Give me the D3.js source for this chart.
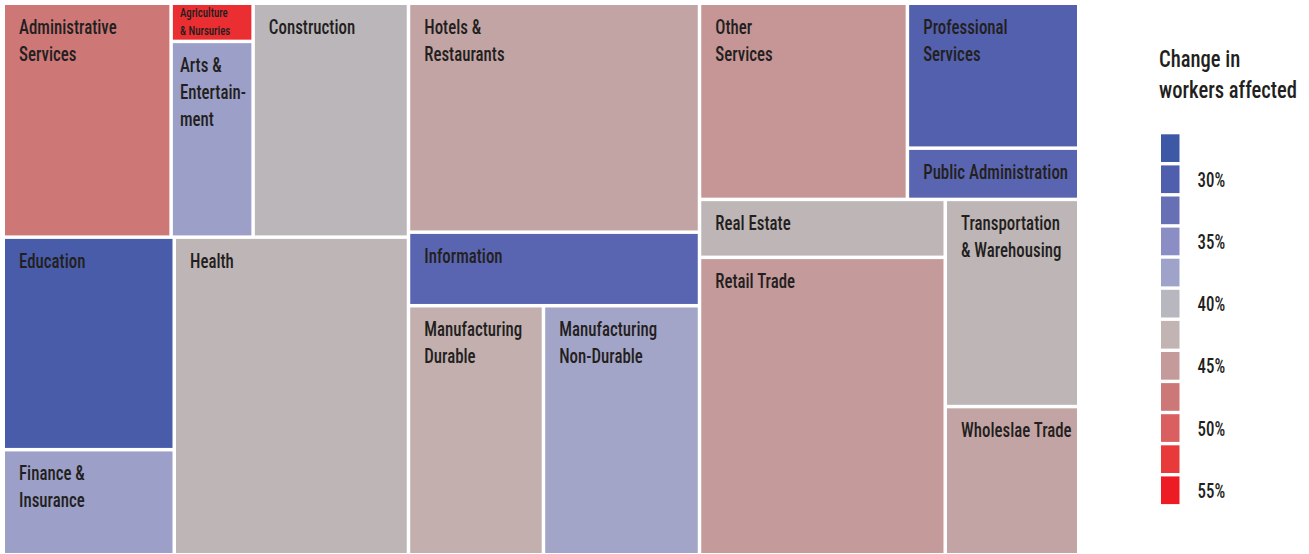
<!DOCTYPE html>
<html>
<head>
<meta charset="utf-8">
<script src="https://cdn.jsdelivr.net/npm/d3@7"></script>
<style>
  html, body { margin: 0; padding: 0; background: #ffffff; }
  svg { display: block; }
  text { font-family: "Liberation Sans Narrow", "Arial Narrow", "Roboto Condensed", Roboto, sans-serif; font-weight: 500; fill: #231f20; }
</style>
</head>
<body>
<svg id="chart" width="1309" height="554"></svg>
<script>
// ---------- data ----------
const industries = [
  "Administrative Services", "Agriculture & Nursuries", "Arts & Entertainment", "Construction",
  "Education", "Finance & Insurance", "Health",
  "Hotels & Restaurants", "Information", "Manufacturing Durable", "Manufacturing Non-Durable",
  "Other Services", "Professional Services", "Public Administration",
  "Real Estate", "Retail Trade", "Transportation & Warehousing", "Wholeslae Trade"
];
const labelLines = [
  ["Administrative", "Services"], ["Agriculture", "& Nursuries"], ["Arts &", "Entertain-", "ment"], ["Construction"],
  ["Education"], ["Finance &", "Insurance"], ["Health"],
  ["Hotels &", "Restaurants"], ["Information"], ["Manufacturing", "Durable"], ["Manufacturing", "Non-Durable"],
  ["Other", "Services"], ["Professional", "Services"], ["Public Administration"],
  ["Real Estate"], ["Retail Trade"], ["Transportation", "& Warehousing"], ["Wholeslae Trade"]
];
// relative size of each industry (workers)
const workers = [
  38.9, 3.1, 15.9, 36.0,
  36.0, 17.8, 73.7,
  66.0, 21.2, 33.3, 38.5,
  40.4, 24.6, 8.7,
  14.1, 72.4, 27.4, 19.6
];
// change in workers affected (%)
const changePct = [
  47.6, 53.5, 37.0, 41.0,
  29.0, 37.0, 41.8,
  44.0, 31.0, 43.0, 37.8,
  45.3, 30.3, 31.0,
  41.8, 45.0, 41.8, 44.0
];
// grouping of the treemap (nested blocks)
const groupPath = [
  "g1/top", "g1/top/ag", "g1/top/ag", "g1/top",
  "g1/bot/ef", "g1/bot/ef", "g1/bot",
  "g2", "g2", "g2/mf", "g2/mf",
  "g3/top", "g3/top/pp", "g3/top/pp",
  "g3/bot/rr", "g3/bot/rr", "g3/bot/tw", "g3/bot/tw"
];
// legend
const legendSteps = [27.5, 30, 32.5, 35, 37.5, 40, 42.5, 45, 47.5, 50, 52.5, 55];
const legendColors = ["#3d59a5", "#4f5ead", "#6870b5", "#8a8ec5", "#a0a3c9", "#b6b7bf",
                      "#c1b4b3", "#c59a9a", "#cd7878", "#d95f60", "#e83a3a", "#ed1c24"];
const legendTicks = [30, 35, 40, 45, 50, 55];
const legendTitle = ["Change in", "workers affected"];

// ---------- build hierarchy ----------
const root = { name: "root", children: [] };
industries.forEach((name, i) => {
  let node = root;
  groupPath[i].split("/").forEach(seg => {
    let child = node.children.find(c => c.name === seg && c.children);
    if (!child) { child = { name: seg, children: [] }; node.children.push(child); }
    node = child;
  });
  node.children.push({ name, idx: i, value: workers[i] });
});

const svg = d3.select("#chart");
const color = d3.scaleLinear().domain(legendSteps).range(legendColors).clamp(true);

const W = 1072, H = 548;
const h = d3.hierarchy(root).sum(d => d.value || 0);
d3.treemap().tile(d3.treemapSliceDice).size([W, H]).paddingInner(3.5).round(false)(h);

const g = svg.append("g").attr("transform", "translate(5,5)");
const leaves = h.leaves();

// horizontal compression for the condensed face
function fitScale(str, size, target) {
  const probe = svg.append("text").attr("font-size", size).text(str);
  const s = Math.min(1, target / probe.node().getComputedTextLength());
  probe.remove();
  return s;
}
const sx = fitScale("Public Administration", 21, 145);
const sxTitle = fitScale("workers affected", 23, 138);

const cell = g.selectAll("g.cell").data(leaves).join("g").attr("class", "cell");
cell.append("rect")
  .attr("x", d => d.x0).attr("y", d => d.y0)
  .attr("width", d => d.x1 - d.x0).attr("height", d => d.y1 - d.y0)
  .attr("fill", d => color(changePct[d.data.idx]));

cell.each(function(d) {
  const small = (d.y1 - d.y0) < 45;
  const narrow = (d.x1 - d.x0) < 100;
  const fs = small ? 13.5 : 21;
  const lh = small ? 18 : 27;
  const x = d.x0 + (narrow ? 7 : 14);
  const y0 = d.y0 + (small ? 11.5 : 29);
  labelLines[d.data.idx].forEach((line, k) => {
    d3.select(this).append("text")
      .attr("transform", `translate(${x},${y0 + k * lh}) scale(${sx},1)`)
      .attr("font-size", fs)
      .text(line);
  });
});

// ---------- legend ----------
const leg = svg.append("g");
legendTitle.forEach((t, k) => {
  leg.append("text")
    .attr("transform", `translate(1159,${67 + k * 31}) scale(${sxTitle},1)`)
    .attr("font-size", 23)
    .text(t);
});
const band = d3.scaleBand().domain(legendSteps).range([134.3, 504.1]).paddingInner(0.11).paddingOuter(0);
leg.selectAll("rect.sw").data(legendSteps).join("rect").attr("class", "sw")
  .attr("x", 1161).attr("width", 18.5)
  .attr("y", d => band(d)).attr("height", band.bandwidth())
  .attr("fill", d => color(d));
leg.selectAll("text.tk").data(legendTicks).join("text").attr("class", "tk")
  .attr("transform", d => `translate(1197.5,${band(d) + band.bandwidth() / 2 + 7.5}) scale(${sx},1)`)
  .attr("font-size", 21)
  .text(d => d + "%");
</script>
</body>
</html>
